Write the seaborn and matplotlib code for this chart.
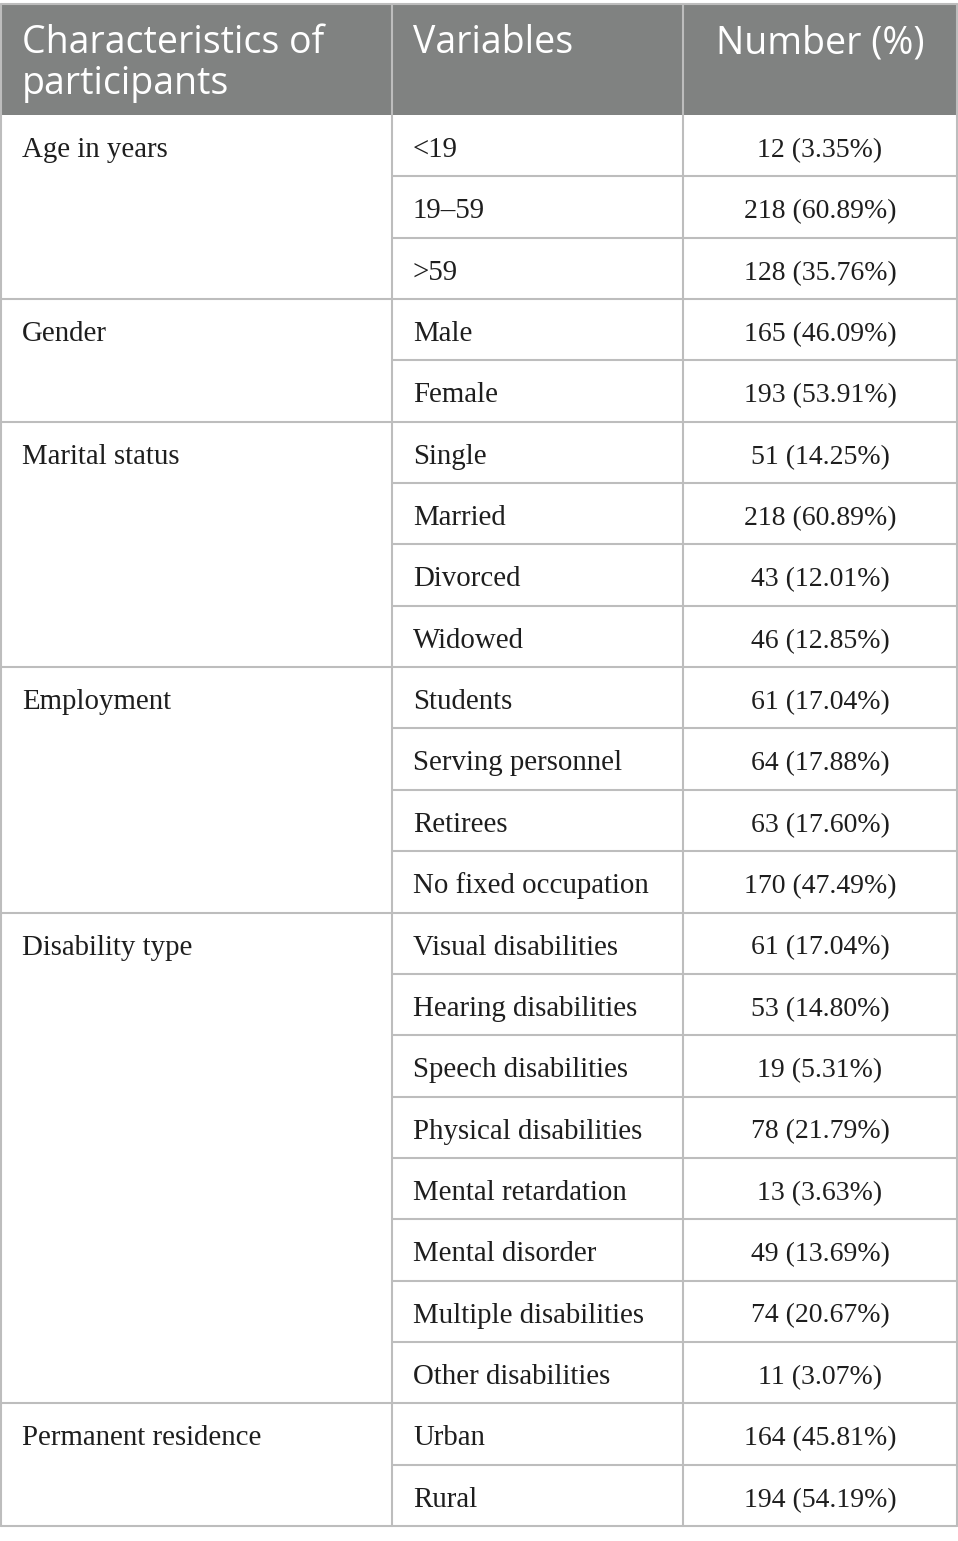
import matplotlib
matplotlib.use("Agg")
import matplotlib.pyplot as plt
import seaborn as sns

sns.set_theme(style="white")

headers = [["Characteristics of", "participants"], ["Variables"], ["Number (%)"]]
groups = ["Age in years", "Gender", "Marital status", "Employment",
          "Disability type", "Permanent residence"]
group_sizes = [3, 2, 4, 4, 8, 2]
variables = ["<19", "19–59", ">59",
             "Male", "Female",
             "Single", "Married", "Divorced", "Widowed",
             "Students", "Serving personnel", "Retirees", "No fixed occupation",
             "Visual disabilities", "Hearing disabilities", "Speech disabilities",
             "Physical disabilities", "Mental retardation", "Mental disorder",
             "Multiple disabilities", "Other disabilities",
             "Urban", "Rural"]
counts = [12, 218, 128, 165, 193, 51, 218, 43, 46, 61, 64, 63, 170,
          61, 53, 19, 78, 13, 49, 74, 11, 164, 194]
percents = ["3.35", "60.89", "35.76", "46.09", "53.91", "14.25", "60.89",
            "12.01", "12.85", "17.04", "17.88", "17.60", "47.49", "17.04",
            "14.80", "5.31", "21.79", "3.63", "13.69", "20.67", "3.07",
            "45.81", "54.19"]

W, H = 958, 1541
fig = plt.figure(figsize=(W / 100, H / 100), dpi=100)
ax = fig.add_axes([0, 0, 1, 1])
ax.set_xlim(0, W)
ax.set_ylim(H, 0)
ax.axis("off")

left, right = 1, 957
c1, c2 = 392, 683
top, head_bot = 4, 115
row_h = (1526 - head_bot) / len(variables)
line_c = "#bdbdbd"
head_c = "#808281"
txt_c = "#1e1e1e"
serif = ["Liberation Serif", "DejaVu Serif"]
sans = ["Open Sans", "DejaVu Sans"]
body_fs = 20.8
num_fs = 20.0
base_off = 42

# header
ax.add_patch(plt.Rectangle((left, top), right - left, head_bot - top,
                           facecolor=head_c, edgecolor="none", zorder=1))
hx = [22, 413, 820]
has = ["left", "left", "center"]
for x, lines, ha in zip(hx, headers, has):
    for k, t in enumerate(lines):
        ax.text(x, 53 + 41 * k, t, ha=ha, va="baseline", color="white",
                fontsize=27, family=sans, zorder=3)

# body text
bottom = head_bot + row_h * len(variables)
for i, (v, n, p) in enumerate(zip(variables, counts, percents)):
    yb = head_bot + row_h * i + base_off
    ax.text(413, yb, v, ha="left", va="baseline", fontsize=body_fs,
            family=serif, color=txt_c, zorder=3)
    ax.text(820, yb, f"{n} ({p}%)", ha="center", va="baseline",
            fontsize=num_fs, family=serif, color=txt_c, zorder=3)

start = 0
for g, s in zip(groups, group_sizes):
    yb = head_bot + row_h * start + base_off
    ax.text(22, yb, g, ha="left", va="baseline", fontsize=body_fs,
            family=serif, color=txt_c, zorder=3)
    start += s

# grid lines
lw = 1.5
start = 0
group_ends = set()
for s in group_sizes:
    start += s
    group_ends.add(start)
for i in range(1, len(variables)):
    y = head_bot + row_h * i
    x0 = left if i in group_ends else c1
    ax.plot([x0, right], [y, y], color=line_c, lw=lw, zorder=2,
            solid_capstyle="butt")
ax.plot([left, right], [bottom, bottom], color=line_c, lw=lw, zorder=2)
ax.plot([left, right], [top, top], color=line_c, lw=lw, zorder=2)
for x in [left, c1, c2, right]:
    ax.plot([x, x], [top, bottom], color=line_c, lw=lw, zorder=2)

fig.savefig("out.png", dpi=100, facecolor="white")
